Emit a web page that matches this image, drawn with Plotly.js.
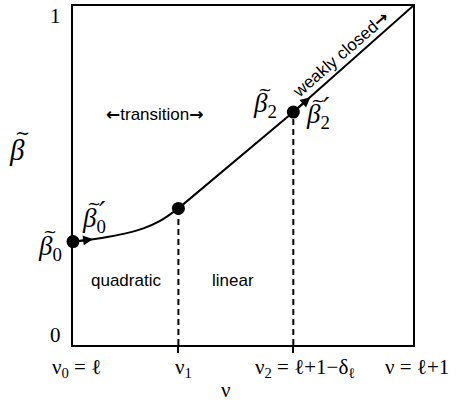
<!DOCTYPE html>
<html>
<head>
<meta charset="utf-8">
<script src="https://cdn.plot.ly/plotly-3.0.1.min.js"></script>
<style>
  html, body { margin: 0; padding: 0; background: #fff; }
  #chart { width: 458px; height: 403px; }
</style>
</head>
<body>
<div id="chart"></div>
<script>
// Normalised coordinate: nu runs from l (0) to l+1 (1); beta~ runs 0..1.
// Quadratic (transition) branch from beta0 up to nu1.
const quadX = [0, 0.059, 0.109, 0.158, 0.207, 0.256, 0.310];
const quadY = [0.305, 0.312, 0.320, 0.330, 0.344, 0.366, 0.403];
// Linear branch nu1 -> nu2 -> weakly closed corner.
const linX = [0.310, 0.648, 1.0];
const linY = [0.403, 0.687, 1.0];
// Marked states beta0, (nu1), beta2.
const dotX = [0, 0.310, 0.648];
const dotY = [0.305, 0.403, 0.687];
// Vertical guides at nu1 and nu2.
const guideX = [0.310, 0.648];
const guideY = [0.403, 0.687];
// Tick labels along nu.
const xTickVals = [0, 0.310, 0.648, 1.0];
const xTickText = [
  'ν<sub>0</sub> = ℓ',
  'ν<sub>1</sub>',
  'ν<sub>2</sub> = ℓ+1−δ<sub>ℓ</sub>',
  'ν = ℓ+1'
];
const xTickShift = [-23, -5, -40, -30];
const yTickVals = [0, 1];
const yTickText = ['0', '1'];

const serif = 'Liberation Serif, Times New Roman, serif';
const sans = 'Liberation Sans, Arial, sans-serif';
const black = '#000';

const traces = [
  { x: quadX, y: quadY, mode: 'lines', line: { color: black, width: 2, shape: 'spline' }, hoverinfo: 'skip' },
  { x: linX, y: linY, mode: 'lines', line: { color: black, width: 2 }, hoverinfo: 'skip' },
  { x: dotX, y: dotY, mode: 'markers', marker: { color: black, size: 13 }, cliponaxis: false, hoverinfo: 'skip' }
];
guideX.forEach((gx, i) => {
  traces.push({ x: [gx, gx], y: [0, guideY[i]], mode: 'lines',
    line: { color: black, width: 2, dash: '6px,4px' }, hoverinfo: 'skip' });
});

const annotations = [];
xTickVals.forEach((v, i) => {
  annotations.push({ x: v, xref: 'x', y: 0, yref: 'paper', yanchor: 'top', xanchor: 'left',
    yshift: -8, xshift: xTickShift[i], showarrow: false, text: xTickText[i],
    font: { family: serif, size: 21, color: black } });
});
yTickVals.forEach((v, i) => {
  annotations.push({ x: 0, xref: 'paper', y: v, yref: 'y', xanchor: 'right',
    yanchor: v === 0 ? 'bottom' : 'top', xshift: -10, yshift: v === 0 ? -4 : 4,
    showarrow: false, text: yTickText[i], font: { family: serif, size: 21, color: black } });
});
// nu axis title
annotations.push({ x: 0.45, xref: 'paper', y: 0, yref: 'paper', yanchor: 'top', yshift: -31,
  showarrow: false, text: 'ν', font: { family: serif, size: 21, color: black } });

// beta~ symbol: italic beta with a tilde set above it, optional prime over the subscript.
function betaLabel(x, y, xref, yref, dx, dy, sub, prime, size) {
  const f = { family: serif, size: size, color: black };
  annotations.push({ x: x, y: y, xref: xref, yref: yref, xanchor: 'left', yanchor: 'middle',
    xshift: dx, yshift: dy, showarrow: false,
    text: '<i>β</i>' + (sub ? '<sub>' + sub + '</sub>' : ''), font: f });
  annotations.push({ x: x, y: y, xref: xref, yref: yref, xanchor: 'center', yanchor: 'middle',
    xshift: dx + size * 0.52, yshift: dy + size * 0.6, showarrow: false,
    text: '~', font: { family: 'DejaVu Serif, serif', size: size * 0.62, color: black } });
  if (prime) {
    annotations.push({ x: x, y: y, xref: xref, yref: yref, xanchor: 'left', yanchor: 'middle',
      xshift: dx + size * 0.62, yshift: dy + size * 0.28, showarrow: false,
      text: '<i>′</i>', font: { family: 'DejaVu Serif, serif', size: size * 1.05, color: black } });
  }
}
betaLabel(0, 0.575, 'paper', 'paper', -66, 0, '', false, 29);
betaLabel(dotX[0], dotY[0], 'x', 'y', -37, -6, '0', false, 27);
betaLabel(dotX[0], dotY[0], 'x', 'y', 7, 22, '0', true, 27);
betaLabel(dotX[2], dotY[2], 'x', 'y', -42, 7, '2', false, 27);
betaLabel(dotX[2], dotY[2], 'x', 'y', 11, -4, '2', true, 27);

// Direction arrows along the branch
annotations.push({ x: quadX[1], y: quadY[1], ax: quadX[0], ay: quadY[0], xref: 'x', yref: 'y',
  axref: 'x', ayref: 'y', showarrow: true, arrowhead: 2, arrowsize: 1, arrowwidth: 2, arrowcolor: black, text: '' });
annotations.push({ x: 0.698, y: 0.731, ax: dotX[2], ay: dotY[2], xref: 'x', yref: 'y',
  axref: 'x', ayref: 'y', showarrow: true, arrowhead: 2, arrowsize: 1, arrowwidth: 2, arrowcolor: black, text: '' });

// Region labels
const bigArrow = s => '<span style="font-family:\'DejaVu Sans\';font-weight:bold">' + s + '</span>';
annotations.push({ x: 0.155, y: 0.19, xref: 'x', yref: 'y', showarrow: false, text: 'quadratic',
  font: { family: sans, size: 17, color: black } });
annotations.push({ x: 0.47, y: 0.19, xref: 'x', yref: 'y', showarrow: false, text: 'linear',
  font: { family: sans, size: 17, color: black } });
annotations.push({ x: 0.24, y: 0.681, xref: 'x', yref: 'y', showarrow: false,
  text: bigArrow('←') + 'transition' + bigArrow('→'), font: { family: sans, size: 17, color: black } });
annotations.push({ x: 0.787, y: 0.858, xref: 'x', yref: 'y', showarrow: false, textangle: -41,
  text: 'weakly closed' + bigArrow('→'), font: { family: sans, size: 17, color: black } });

const axisBase = { range: [0, 1], showgrid: false, zeroline: false, showline: true, mirror: true,
  linecolor: black, linewidth: 2, fixedrange: true };

const layout = {
  width: 458, height: 403,
  margin: { l: 73, r: 45, t: 6, b: 58 },
  paper_bgcolor: '#fff', plot_bgcolor: '#fff',
  showlegend: false,
  xaxis: Object.assign({}, axisBase, { tickvals: guideX, ticks: 'outside', ticklen: 6, tickwidth: 2,
    tickcolor: black, showticklabels: false }),
  yaxis: Object.assign({}, axisBase, { ticks: '', showticklabels: false }),
  annotations: annotations
};

Plotly.newPlot('chart', traces, layout, { displayModeBar: false, staticPlot: true });
</script>
</body>
</html>
